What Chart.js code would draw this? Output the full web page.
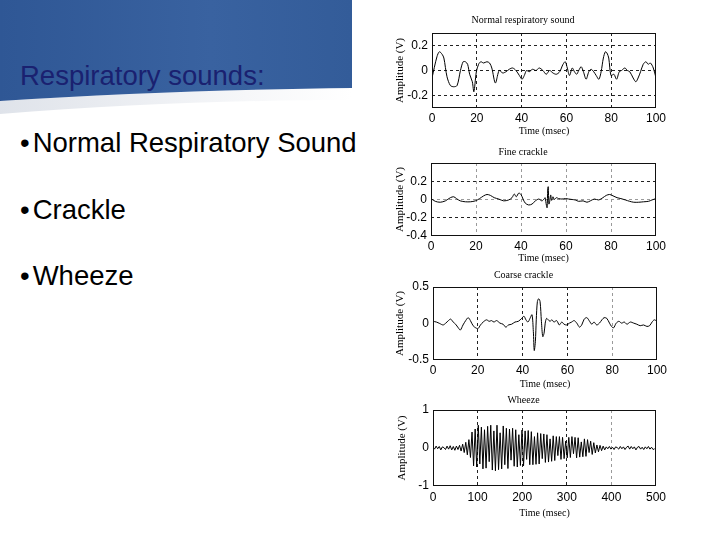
<!DOCTYPE html>
<html><head><meta charset="utf-8">
<script src="https://cdn.jsdelivr.net/npm/chart.js@4.4.1/dist/chart.umd.min.js"></script>
<style>
html,body{margin:0;padding:0;width:720px;height:540px;overflow:hidden;background:#fff;font-family:"Liberation Sans",Arial,sans-serif}
#slide{position:relative;width:720px;height:540px}
svg.bg{position:absolute;left:0;top:0}
.t{position:absolute;left:20px;font-size:27.5px;line-height:28px;white-space:nowrap}
.t span{margin-left:3px}
.c{position:absolute;left:390px;width:280px}
</style></head>
<body><div id="slide">
<svg class="bg" width="720" height="540">
<defs>
<linearGradient id="g" x1="0" y1="0" x2="1" y2="0"><stop offset="0" stop-color="#2f5795"/><stop offset="0.6" stop-color="#3962a0"/><stop offset="1" stop-color="#335c99"/></linearGradient>
<linearGradient id="s" x1="0" y1="0" x2="1" y2="0"><stop offset="0" stop-color="#dfe3ea"/><stop offset="0.7" stop-color="#f6f7f9"/><stop offset="1" stop-color="#ffffff"/></linearGradient>
</defs>
<path d="M0 101 C120 93 250 89 352 88 V100 C250 100 120 104 0 114 Z" fill="url(#s)"/>
<path d="M0 0 H352 V88 C250 89 120 93 0 101 Z" fill="url(#g)"/>
</svg>
<div class="t" style="top:62px;color:#1a2170">Respiratory sounds:</div>
<div class="t" style="top:129px;color:#000">•<span>Normal Respiratory Sound</span></div>
<div class="t" style="top:196px;color:#000">•<span>Crackle</span></div>
<div class="t" style="top:262px;color:#000">•<span>Wheeze</span></div>
<canvas id="c1" class="c" width="280" height="130" style="top:10px;height:130px"></canvas>
<canvas id="c2" class="c" width="280" height="125" style="top:140px;height:125px"></canvas>
<canvas id="c3" class="c" width="280" height="130" style="top:265px;height:130px"></canvas>
<canvas id="c4" class="c" width="280" height="137" style="top:388px;height:137px"></canvas>
</div>
<script>
// ---- Normal respiratory sound (time in ms, amplitude in V)
const normalT = [0,2.2,3.3,4.5,5.3,6.7,8.2,9.7,11.2,12.7,13.9,14.9,15.9,16.8,18,18.7,19.8,20.8,21.8,23,24.5,25.7,26.7,28.3,30,31.6,33,34.5,36,37.5,39,40.2,41.2,42.2,43.4,44.9,46.4,47.9,49.5,51,52.5,54,55.5,57,58.5,59.5,60.4,61.4,62.6,63.6,64.6,65.5,66.6,67.6,68.8,70,71,72.2,73.3,74.5,75.5,76.5,77.4,78.1,78.9,79.9,81.2,82.4,83.6,84.6,86.1,87.2,88.3,89.8,91,92,93.1,94.3,95.5,96.5,97.5,98.8,100];
const normalV = [-0.06,0.11,0.15,0.13,0.1,-0.05,-0.12,-0.13,-0.12,0,0.07,0.07,0.05,-0.03,-0.09,-0.17,-0.01,0.05,0.07,0.06,0.07,0.06,0.02,-0.1,0,-0.02,-0.01,0.01,0.02,0,-0.04,-0.07,-0.04,0,-0.01,0.01,0,0.02,0,-0.03,0,-0.02,-0.03,-0.01,0.05,0.07,0.02,-0.04,0.02,-0.01,-0.03,0,0.03,-0.01,-0.07,-0.01,0.01,-0.01,-0.04,-0.07,-0.01,0.1,0.15,0.14,0.1,-0.04,-0.03,-0.07,-0.01,0,0.02,0,-0.01,-0.06,-0.09,-0.06,-0.01,0.05,0.07,0.05,0.06,0.02,-0.06];
// ---- Fine crackle
const fineT = [0,1.9,4.1,6.4,8.6,10.1,11.3,13,15.3,17.5,19.7,21.6,23.4,24.9,26.4,28.1,30.1,32.3,34.5,36,37,37.9,39,40,40.9,41.9,43.4,44.9,46.4,47.9,49.3,50.4,50.7,51.3,51.6,51.9,52.1,52.4,52.7,53.2,53.6,54.2,54.8,55.7,56.7,58.2,59.7,61.2,62.7,64.1,65.6,67.6,69.3,70.8,72.6,74.5,76.4,77.9,79.4,80.9,82.7,84.4,86.4,88.3,90.1,92.3,94.5,96.7,98.2,100];
const fineV = [0.01,-0.02,-0.03,-0.015,0.02,0.03,0.01,-0.015,-0.025,-0.025,-0.015,0.01,0.04,0.055,0.045,0.02,0.005,-0.015,-0.005,0.02,0.06,0.03,0.07,0.055,0.005,-0.04,-0.06,-0.05,-0.015,0.005,-0.015,0.01,0.02,-0.065,-0.09,0.12,0.14,-0.05,-0.03,0.05,-0.01,0.03,0,0.02,0.01,0.005,0.01,0.005,0,-0.005,-0.02,-0.015,-0.03,-0.015,0.005,-0.005,0.02,0.045,0.055,0.04,0.02,0.01,-0.005,-0.02,-0.03,-0.03,-0.025,-0.02,-0.005,0.01];
// ---- Coarse crackle
const coarseT = [0,1.5,3,4.5,5.7,6.9,7.9,9,10.1,11.3,12.2,13.4,14.6,15.7,16.7,17.9,19.1,20.1,21.2,22.4,23.9,25.1,26.1,27.2,28.4,29.9,31.3,32.5,33.7,35.1,36.6,38.1,39.6,40.6,41.5,42.4,43.3,44.2,44.8,45.2,45.7,46.1,46.6,47.2,47.8,48.4,49,49.6,50.1,50.7,51.5,52.2,53.1,54,55.2,56.4,57.5,58.5,59.7,60.9,61.9,63,64.2,65.4,66.4,67.5,68.7,69.9,70.9,71.9,73.1,74.3,75.4,76.4,77.6,78.8,79.7,80.6,81.8,83,84.2,85.4,86.6,88.1,89.6,91,92.5,94,95.5,96.7,97.8,98.8,100];
const coarseV = [0.03,0.02,0,-0.02,0.005,0.04,0.06,0.02,-0.01,-0.06,-0.09,-0.02,0.04,0.08,0.04,-0.03,-0.06,-0.07,-0.02,0.02,0.05,0.03,0.04,0.02,0.04,0.005,-0.01,-0.05,-0.02,-0.01,0.02,0.03,0.07,0.1,0.05,0.02,0.07,0.12,-0.11,-0.37,-0.25,0.05,0.3,0.34,0.3,0.03,-0.18,-0.13,0.005,0.07,0.05,0.03,0.05,0.02,0.04,-0.02,0.02,-0.01,-0.02,0.005,0.02,0.04,0.005,-0.05,-0.02,0.06,0.08,0.03,-0.01,0.02,-0.02,0.005,0.05,0.08,0.07,0.005,-0.04,-0.06,0.005,0.03,0.005,0.02,-0.01,0.02,0.005,-0.01,-0.03,-0.02,-0.04,-0.03,0.02,0.05,0.03];
// ---- Wheeze (samples every 3.5 ms)
const wheezeStep = 3.5;
const wheezeV = [0.02,-0.03,0.05,-0.02,0.04,-0.05,0.03,0.01,-0.04,0.05,-0.03,0.06,-0.05,0.04,-0.06,0.05,-0.04,0.07,
-0.08,0.1,-0.12,0.15,-0.18,0.22,-0.25,
0.42,-0.47,0.5,-0.5,0.6,-0.42,0.55,-0.55,0.48,-0.53,0.57,-0.36,0.6,-0.58,0.45,-0.6,0.6,-0.57,0.4,-0.55,0.58,-0.44,0.52,-0.54,0.5,-0.32,0.52,-0.48,0.48,-0.5,0.35,-0.46,0.47,-0.47,0.45,-0.3,0.46,-0.44,0.43,-0.44,0.3,-0.43,0.4,-0.42,0.38,-0.28,0.37,-0.38,0.35,-0.37,0.24,-0.35,0.32,-0.33,0.3,-0.2,0.3,-0.3,0.28,-0.28,0.18,-0.26,0.28,-0.25,0.3,-0.15,0.28,-0.26,0.27,-0.24,0.16,-0.23,0.24,-0.22,0.22,-0.12,0.18,-0.17,0.14,-0.13,0.08,-0.1,0.07,-0.07,0.05,-0.05,
0.03,-0.02,0.04,-0.03,0.02,-0.04,0.03,0.01,-0.03,0.04,-0.02,0.03,-0.04,0.02,0.05,-0.03,0.04,-0.02,0.03,-0.05,0.02,0.04,-0.03,0.02,-0.04,0.03,-0.02,0.04,-0.03,0.02,-0.04,-0.02];
// ---- Axis ticks
const msTicks = [0,20,40,60,80,100];
const wheezeTicks = [0,100,200,300,400,500];
const normalYTicks = [-0.2,0,0.2];
const fineYTicks = [-0.4,-0.2,0,0.2];
const coarseYTicks = [-0.5,0,0.5];
const wheezeYTicks = [-1,0,1];

const pts = (ts, vs) => vs.map((v,i)=>({x:ts[i], y:v}));
const boxPlugin = {id:'box', afterDraw(c){const a=c.chartArea, g=c.ctx; g.save(); g.strokeStyle='#111'; g.lineWidth=1;
  g.strokeRect(Math.round(a.left)+0.5, Math.round(a.top)+0.5, Math.round(a.right-a.left)-1, Math.round(a.bottom-a.top)-1); g.restore();}};
const serif = '"Liberation Serif","Times New Roman",serif';
const tickFont = {family:'"Liberation Sans Narrow","Liberation Sans",Arial,sans-serif', size:12};
const DARK='#222', LIGHT='#9a9a9a', NONE='rgba(0,0,0,0)';

function make(id, o){
  new Chart(document.getElementById(id), {
    type:'line',
    data:{datasets:[{data:o.data, borderColor:'#000', borderWidth:1, pointRadius:0, tension:o.tension, fill:false}]},
    options:{
      animation:false, responsive:false, events:[],
      layout:{padding:{left:0,right:o.padR,top:0,bottom:0}},
      plugins:{legend:{display:false}, tooltip:{enabled:false},
        title:{display:true, text:o.title, color:'#000', font:{family:serif,size:10,weight:'normal'}, padding:{top:o.tT,bottom:o.tB}}},
      scales:{
        x:{type:'linear', min:o.xmin, max:o.xmax,
          afterBuildTicks:s=>{s.ticks=o.xticks.map(v=>({value:v}));},
          afterFit:s=>{s.height=o.xh;},
          grid:{drawTicks:false, color:o.xgrid, lineWidth:1},
          border:{display:false, dash:[3,3]},
          ticks:{padding:o.xtp, font:tickFont, color:'#000', autoSkip:false, maxRotation:0, callback:v=>String(v)},
          title:{display:true, text:'Time (msec)', color:'#000', font:{family:serif,size:10}, padding:{top:0,bottom:o.xtb}}},
        y:{type:'linear', min:o.ymin, max:o.ymax,
          afterBuildTicks:s=>{s.ticks=o.yticks.map(v=>({value:v}));},
          afterFit:s=>{s.width=o.yw;},
          grid:{drawTicks:false, color:o.ygrid, lineWidth:1},
          border:{display:false, dash:o.ydash},
          ticks:{padding:4, font:tickFont, color:'#000', autoSkip:false, callback:v=>String(v)},
          title:{display:true, text:'Amplitude (V)', color:'#000', font:{family:serif,size:11}, padding:{top:o.ytp,bottom:0}}}
      }
    },
    plugins:[boxPlugin]
  });
}

make('c1', {data:pts(normalT,normalV), tension:0.3, title:'Normal respiratory sound', tT:4, tB:7, padR:14,
  xmin:0,xmax:100,xticks:msTicks,xh:32,xtp:3,xtb:3, xgrid:c=>(c.tick&&c.tick.value>0&&c.tick.value<100)?DARK:NONE,
  ymin:-0.3,ymax:0.3,yticks:normalYTicks,yw:42,ytp:4, ygrid:DARK, ydash:[3,3]});
make('c2', {data:pts(fineT,fineV), tension:0.3, title:'Fine crackle', tT:6, tB:5, padR:14,
  xmin:0,xmax:100,xticks:msTicks,xh:29,xtp:3,xtb:1, xgrid:c=>(c.tick&&c.tick.value>0&&c.tick.value<100)?LIGHT:NONE,
  ymin:-0.4,ymax:0.4,yticks:fineYTicks,yw:41,ytp:4, ygrid:c=>(c.tick&&c.tick.value===0)?LIGHT:(c.tick&&c.tick.value===-0.4?NONE:DARK), ydash:[3,3]});
make('c3', {data:pts(coarseT,coarseV), tension:0.3, title:'Coarse crackle', tT:4, tB:6, padR:13,
  xmin:0,xmax:100,xticks:msTicks,xh:35,xtp:3,xtb:5, xgrid:c=>{const v=c.tick&&c.tick.value; return (v>0&&v<80)?DARK:(v===80?LIGHT:NONE);},
  ymin:-0.5,ymax:0.5,yticks:coarseYTicks,yw:43,ytp:4, ygrid:NONE, ydash:[3,3]});
make('c4', {data:wheezeV.map((v,i)=>({x:i*wheezeStep, y:v})), tension:0, title:'Wheeze', tT:6, tB:4, padR:13,
  xmin:0,xmax:500,xticks:wheezeTicks,xh:39,xtp:4,xtb:6, xgrid:c=>{const v=c.tick&&c.tick.value; return (v>0&&v<400)?DARK:(v===400?LIGHT:NONE);},
  ymin:-1,ymax:1,yticks:wheezeYTicks,yw:43,ytp:6, ygrid:NONE, ydash:[3,3]});
</script>
</body></html>
